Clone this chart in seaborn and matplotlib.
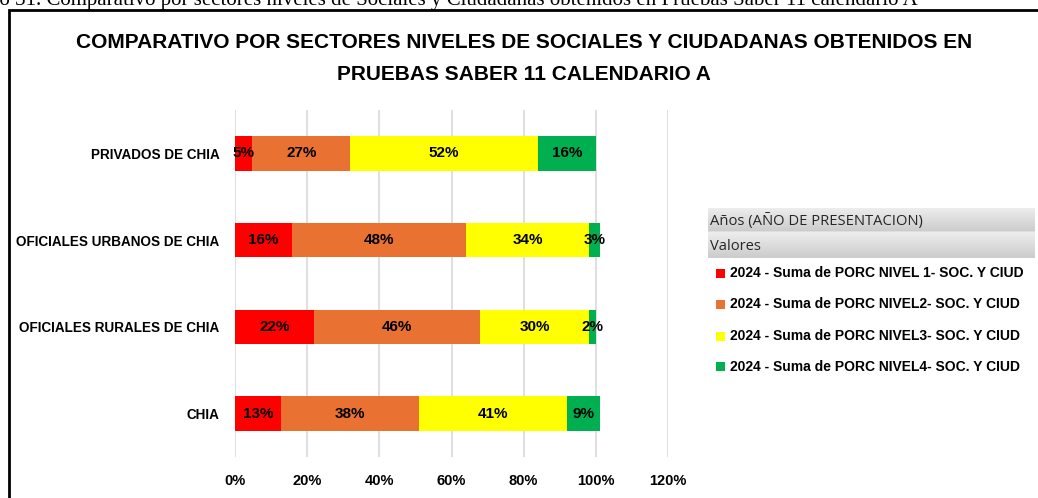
import numpy as np
import pandas as pd
import matplotlib
matplotlib.use("Agg")
import matplotlib.pyplot as plt
from matplotlib.patches import Rectangle
import seaborn as sns

# --- datos ---
sectores = ["PRIVADOS DE CHIA", "OFICIALES URBANOS DE CHIA",
            "OFICIALES RURALES DE CHIA", "CHIA"]
nivel1 = [4.8, 15.8, 22.0, 12.7]
nivel2 = [27.1, 48.2, 45.9, 38.3]
nivel3 = [52.1, 34.2, 30.3, 41.1]
nivel4 = [16.0, 2.9, 1.8, 9.0]
series = ["2024 - Suma de PORC NIVEL 1- SOC. Y CIUD",
          "2024 - Suma de PORC NIVEL2- SOC. Y CIUD",
          "2024 - Suma de PORC NIVEL3- SOC. Y CIUD",
          "2024 - Suma de PORC NIVEL4- SOC. Y CIUD"]
colores = ["#FF0000", "#E97132", "#FFFF00", "#00B050"]
xticks = [0, 20, 40, 60, 80, 100, 120]

titulo = ("COMPARATIVO POR SECTORES NIVELES DE SOCIALES Y CIUDADANAS OBTENIDOS EN\n"
          "PRUEBAS SABER 11 CALENDARIO A")
pie_superior = ("Gráfico 31. Comparativo por sectores niveles de Sociales y Ciudadanas "
                "obtenidos en Pruebas Saber 11 calendario A")

FUENTE = "Liberation Sans"

valores = np.array([nivel1, nivel2, nivel3, nivel4]) / 100.0
acumulado = np.cumsum(valores, axis=0)

sns.set_theme(style="white")
plt.rcParams["font.family"] = [FUENTE, "DejaVu Sans"]
plt.rcParams["text.color"] = "black"
plt.rcParams["xtick.color"] = "black"
plt.rcParams["ytick.color"] = "black"

fig = plt.figure(figsize=(10.38, 4.98), dpi=100)
W, H = 1038, 498

def fx(px):
    return px / W

def fy(py):
    return 1 - py / H

# marco negro del grafico (se sale de la imagen a la derecha y abajo)
fig.patches.append(Rectangle((fx(8.5), -0.1), 1.2, fy(10.5) + 0.1,
                             transform=fig.transFigure, fill=False,
                             edgecolor="black", linewidth=2, zorder=0))
# texto del pie de figura, recortado arriba como en la captura
fig.text(fx(918), fy(5.5), pie_superior, ha="right", va="baseline",
         fontsize=15, family="Liberation Serif", color="black")

ax = fig.add_axes([fx(235), fy(457), fx(668) - fx(235), fy(110) - fy(457)])

# barras apiladas: se dibuja el acumulado de mayor a menor
for i in range(3, -1, -1):
    df = pd.DataFrame({"sector": sectores, "valor": acumulado[i]})
    sns.barplot(data=df, x="valor", y="sector", order=sectores, color=colores[i],
                saturation=1, width=0.4, ax=ax, edgecolor="none", linewidth=0)

# etiquetas de datos
for i in range(4):
    for j, s in enumerate(sectores):
        centro = acumulado[i][j] - valores[i][j] / 2
        ax.text(centro, j, f"{round(valores[i][j] * 100):.0f}%", ha="center",
                va="center", fontsize=11, fontweight="bold", color="black")

ax.set_xlim(0, 1.2)
ax.set_ylim(3.5, -0.5)
ax.set_xticks([t / 100 for t in xticks])
ax.set_xticklabels([f"{t}%" for t in xticks], fontweight="bold", fontsize=10.5)
ax.set_yticklabels(sectores, fontweight="bold", fontsize=9.75)
ax.tick_params(axis="x", pad=12, length=0)
ax.tick_params(axis="y", pad=11, length=0)
ax.set_xlabel("")
ax.set_ylabel("")
ax.xaxis.grid(True, color="#d9d9d9", linewidth=1.2)
ax.set_axisbelow(True)
for sp in ax.spines.values():
    sp.set_visible(False)

fig.text(fx(524), fy(43), titulo.split("\n")[0], ha="center", va="center",
         fontsize=15, fontweight="bold")
fig.text(fx(524), fy(74), titulo.split("\n")[1], ha="center", va="center",
         fontsize=15, fontweight="bold")

# cabecera del campo de tabla dinamica
cab = fig.add_axes([fx(708), fy(258), fx(1035) - fx(708), fy(208) - fy(258)])
grad = np.concatenate([np.linspace(0.93, 0.80, 24), np.linspace(0.93, 0.80, 26)])
cab.imshow(np.repeat(grad[:, None], 10, axis=1), cmap="gray", vmin=0, vmax=1,
           aspect="auto", extent=(0, 1, 0, 1))
cab.set_axis_off()
fig.text(fx(710), fy(221), "Años (AÑO DE PRESENTACION)", ha="left", va="center",
         fontsize=10.6, family="Open Sans", color="#262626")
fig.text(fx(710), fy(246), "Valores", ha="left", va="center",
         fontsize=10.6, family="Open Sans", color="#262626")

# leyenda
filas = [273, 304, 336, 367]
for k in range(4):
    fig.patches.append(Rectangle((fx(716), fy(filas[k] + 4.5)), fx(9), 9 / H,
                                 transform=fig.transFigure, facecolor=colores[k],
                                 edgecolor="none"))
    fig.text(fx(730), fy(filas[k]), series[k], ha="left", va="center",
             fontsize=10, fontweight="bold", color="black")

fig.savefig("out.png", dpi=100)
